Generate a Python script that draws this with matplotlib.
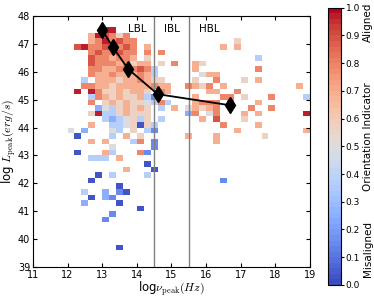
import numpy as np
import matplotlib
matplotlib.use("Agg")
import matplotlib.pyplot as plt

plt.rcParams["mathtext.fontset"] = "cm"

# orientation indicator per 0.2 x 0.2 bin, rows from logL=48 down to 39,
# columns from log nu = 11 up to 19. '.' = empty, digit d -> value ~ d/10
rows = [
    "",
    "",
    "..........99",
    "........698757",
    "........6797877..............5",
    "......897787787.6..........6.6",
    "........7877877.7.7",
    "........8776776.5...............3",
    "........877767566.5.7..65",
    "........7766777873.....6........7",
    "........7667666763......466",
    ".......3.6665667655....5..7...5.6",
    ".......7766566666766..7657.6..........6",
    "......9.975565665.76.....66..7",
    "........3765655631.....6...77.5...7....3",
    "........7.5656554373...6777.7...6",
    ".........24356565.3.6.46567....7..7",
    "........593356555.....27.47...6.6......9",
    "..........3234535.3.....6.8...5",
    "........6..3345053.........7....6",
    ".....4.2...43.5.31...........6.........6",
    "......0....3.6.5......6...6......5",
    "........6.6...37.1........6",
    "...........4.....1",
    "......0...63...71",
    "........333.6",
    "................0",
    ".............6...0",
    ".........0.3....3",
    "........0..................1",
    "............0",
    ".......3..2.10",
    "........0.21",
    ".......2....0",
    "...............0",
    "...........1",
    "..........1",
    "",
    "",
    "",
    "",
    "............0",
    "",
    "",
    "",
]
levels = {"0": 0.03, "1": 0.15, "2": 0.25, "3": 0.36, "4": 0.48,
          "5": 0.58, "6": 0.68, "7": 0.78, "8": 0.88, "9": 0.97}

# binned mean curve
curve_x = [13.0, 13.3, 13.75, 14.6, 16.7]
curve_y = [47.5, 46.9, 46.1, 45.2, 44.8]

boundaries = [14.5, 15.5]
class_names = ["LBL", "IBL", "HBL"]
class_x = [14.0, 15.0, 16.1]

x_edges = np.linspace(11, 19, 41)
y_edges = np.linspace(39, 48, 46)
grid = np.full((45, 40), np.nan)
for j, r in enumerate(rows):
    r = r.ljust(40, ".")[:40]
    for i, c in enumerate(r):
        if c in levels:
            grid[44 - j, i] = levels[c]

fig = plt.figure(figsize=(3.74, 2.98), dpi=100)
ax = fig.add_axes([0.088, 0.104, 0.741, 0.842])
cmap = plt.get_cmap("coolwarm", 50)
mesh = ax.pcolormesh(x_edges, y_edges, np.ma.masked_invalid(grid),
                     cmap=cmap, vmin=0, vmax=1)

for b in boundaries:
    ax.axvline(b, color="grey", lw=1)
for name, xx in zip(class_names, class_x):
    ax.text(xx, 47.55, name, ha="center", va="center", fontsize=7.5)

ax.plot(curve_x, curve_y, "k-", lw=1.3)
ax.plot(curve_x, curve_y, "kd", ms=8.5)

ax.set_xlim(11, 19)
ax.set_ylim(39, 48)
ax.set_xticks(range(11, 20))
ax.set_yticks(range(39, 49))
ax.tick_params(direction="in", top=True, right=True, labelsize=7, length=3, pad=2)
ax.set_xlabel(r"log$\nu_{\rm peak}(Hz)$", fontsize=8.5, labelpad=0)
ax.set_ylabel(r"log $L_{\rm peak}(erg/s)$", fontsize=8.5, labelpad=0)

cax = fig.add_axes([0.877, 0.044, 0.034, 0.93])
cb = fig.colorbar(mesh, cax=cax, ticks=np.arange(0, 1.01, 0.1))
cb.ax.set_yticklabels(["%.1f" % t for t in np.arange(0, 1.01, 0.1)])
cb.ax.tick_params(labelsize=6.5, length=2, pad=1.5)
cb.outline.set_linewidth(0.8)

fig.text(0.984, 0.925, "Aligned", rotation=90, ha="center", va="center", fontsize=7.5)
fig.text(0.984, 0.54, "Orientation Indicator", rotation=90, ha="center", va="center", fontsize=7.5)
fig.text(0.984, 0.165, "Misaligned", rotation=90, ha="center", va="center", fontsize=7.5)

fig.savefig("out.png", dpi=100)
